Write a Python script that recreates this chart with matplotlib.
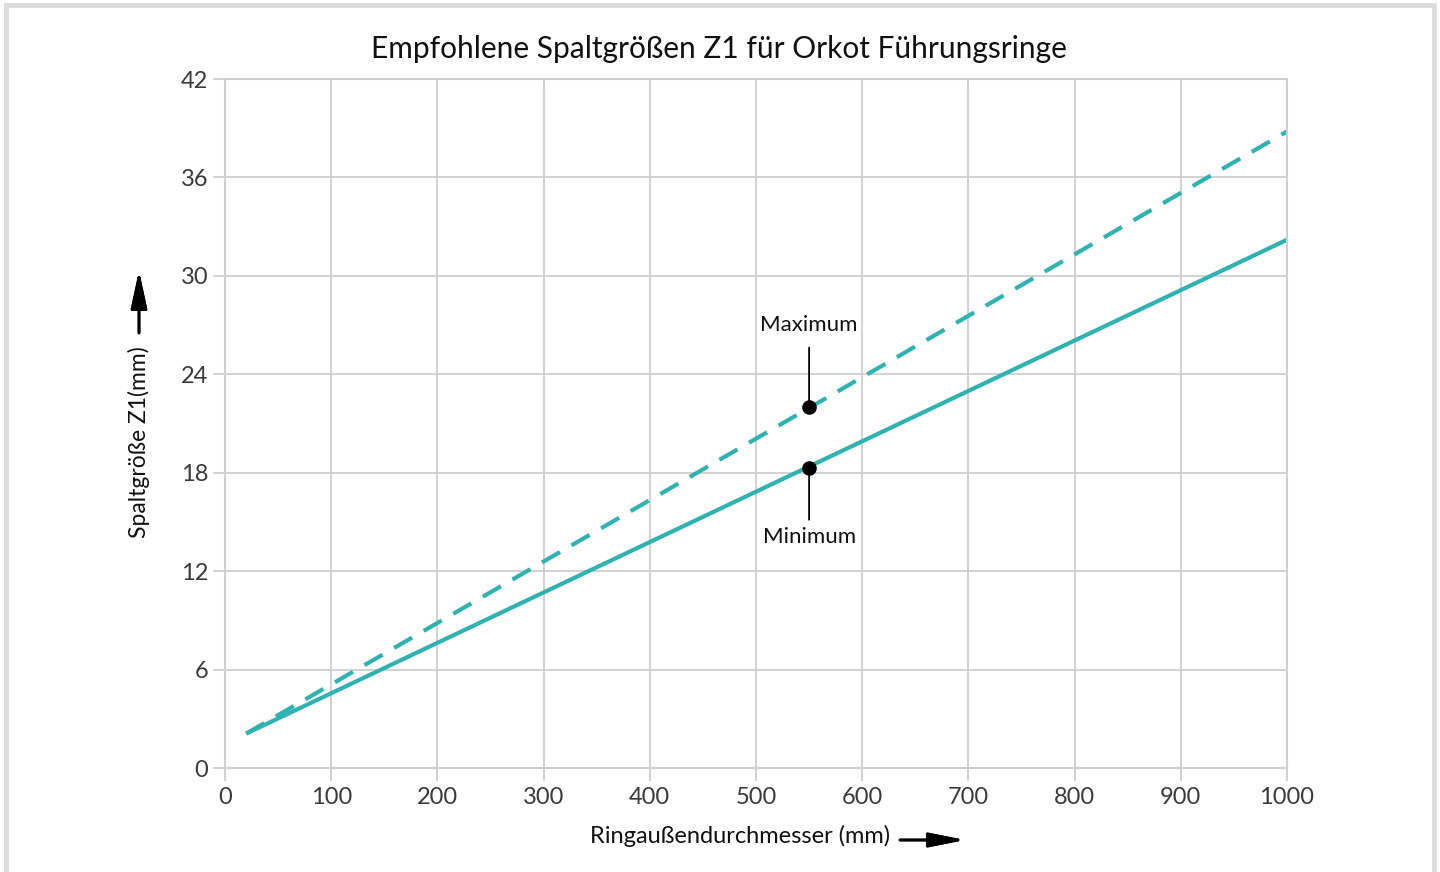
#!/usr/bin/env python3
# Empfohlene Spaltgroessen Z1 - min/max gap vs. ring outer diameter

# %% Load libraries
import matplotlib
matplotlib.use('Agg')
import matplotlib.pyplot as plt
from matplotlib.patches import Rectangle

# %% Data
diameter = [20, 1000]
z1_min = [2.1, 32.2]
z1_max = [2.1, 38.8]
mark_x = 550
mark_min = 18.3
mark_max = 22.0
x_ticks = [0, 100, 200, 300, 400, 500, 600, 700, 800, 900, 1000]
y_ticks = [0, 6, 12, 18, 24, 30, 36, 42]

# %% Setup
plt.rcParams['font.family'] = ['Lato', 'DejaVu Sans']
teal = '#2fb2b2'
grid_c = '#cfcfcf'

fig = plt.figure(figsize=(14.4, 8.72), dpi=100)
ax = fig.add_axes([225 / 1440, 1 - 768 / 872, 1062 / 1440, 689 / 872])

# %% Lines
ax.plot(diameter, z1_min, color=teal, lw=3, solid_capstyle='butt')
ax.plot(diameter, z1_max, color=teal, lw=3, ls=(0, (5, 3.2)))

# markers + labels
ax.scatter([mark_x, mark_x], [mark_min, mark_max], s=90, color='black', zorder=5)
ax.annotate('Maximum', xy=(mark_x, mark_max), xytext=(mark_x, mark_max + 5.0),
            ha='center', va='center', fontsize=16, color='#111111',
            arrowprops=dict(arrowstyle='-', color='black', lw=1.3, shrinkA=7, shrinkB=0))
ax.annotate('Minimum', xy=(mark_x, mark_min), xytext=(mark_x, mark_min - 4.2),
            ha='center', va='center', fontsize=16, color='#111111',
            arrowprops=dict(arrowstyle='-', color='black', lw=1.3, shrinkA=3, shrinkB=0))

# %% Axes styling
ax.set_xlim(0, 1000)
ax.set_ylim(0, 42)
ax.set_xticks(x_ticks)
ax.set_yticks(y_ticks)
ax.grid(True, color=grid_c, lw=1.3)
ax.set_axisbelow(True)
for s in ax.spines.values():
    s.set_color(grid_c)
    s.set_linewidth(1.5)
ax.tick_params(axis='both', colors=grid_c, width=1.3, length=9,
               labelcolor='#3a3a3a', labelsize=17)
ax.tick_params(axis='x', pad=5)
ax.tick_params(axis='y', pad=3)

# title
fig.text(719 / 1440, 1 - 49 / 872, 'Empfohlene Spaltgrößen Z1 für Orkot Führungsringe',
         ha='center', va='center', fontsize=21.5, color='#111111')

# axis labels with arrows
fig.text(139 / 1440, 1 - 442 / 872, 'Spaltgröße Z1(mm)', rotation=90,
         ha='center', va='center', fontsize=16.5, color='#111111')
fig.text(740 / 1440, 1 - 836 / 872, 'Ringaußendurchmesser (mm)',
         ha='center', va='center', fontsize=17, color='#111111')
fig.add_artist(plt.annotate('', xy=(139, 872 - 271), xytext=(139, 872 - 333),
                            xycoords='figure pixels', textcoords='figure pixels',
                            arrowprops=dict(arrowstyle='-|>,head_length=1.15,head_width=0.25',
                                            color='black', lw=2, mutation_scale=20,
                                            shrinkA=0, shrinkB=0)))
fig.add_artist(plt.annotate('', xy=(965, 872 - 840), xytext=(900, 872 - 840),
                            xycoords='figure pixels', textcoords='figure pixels',
                            arrowprops=dict(arrowstyle='-|>,head_length=1.1,head_width=0.22',
                                            color='black', lw=2, mutation_scale=20,
                                            shrinkA=0, shrinkB=0)))

# outer frame
fig.add_artist(Rectangle((6 / 1440, -0.02), 1428 / 1440, 1 - 5 / 872 + 0.02,
                         transform=fig.transFigure, fill=False,
                         edgecolor='#dcdcdc', lw=3.5))

fig.savefig('out.png', dpi=100)
